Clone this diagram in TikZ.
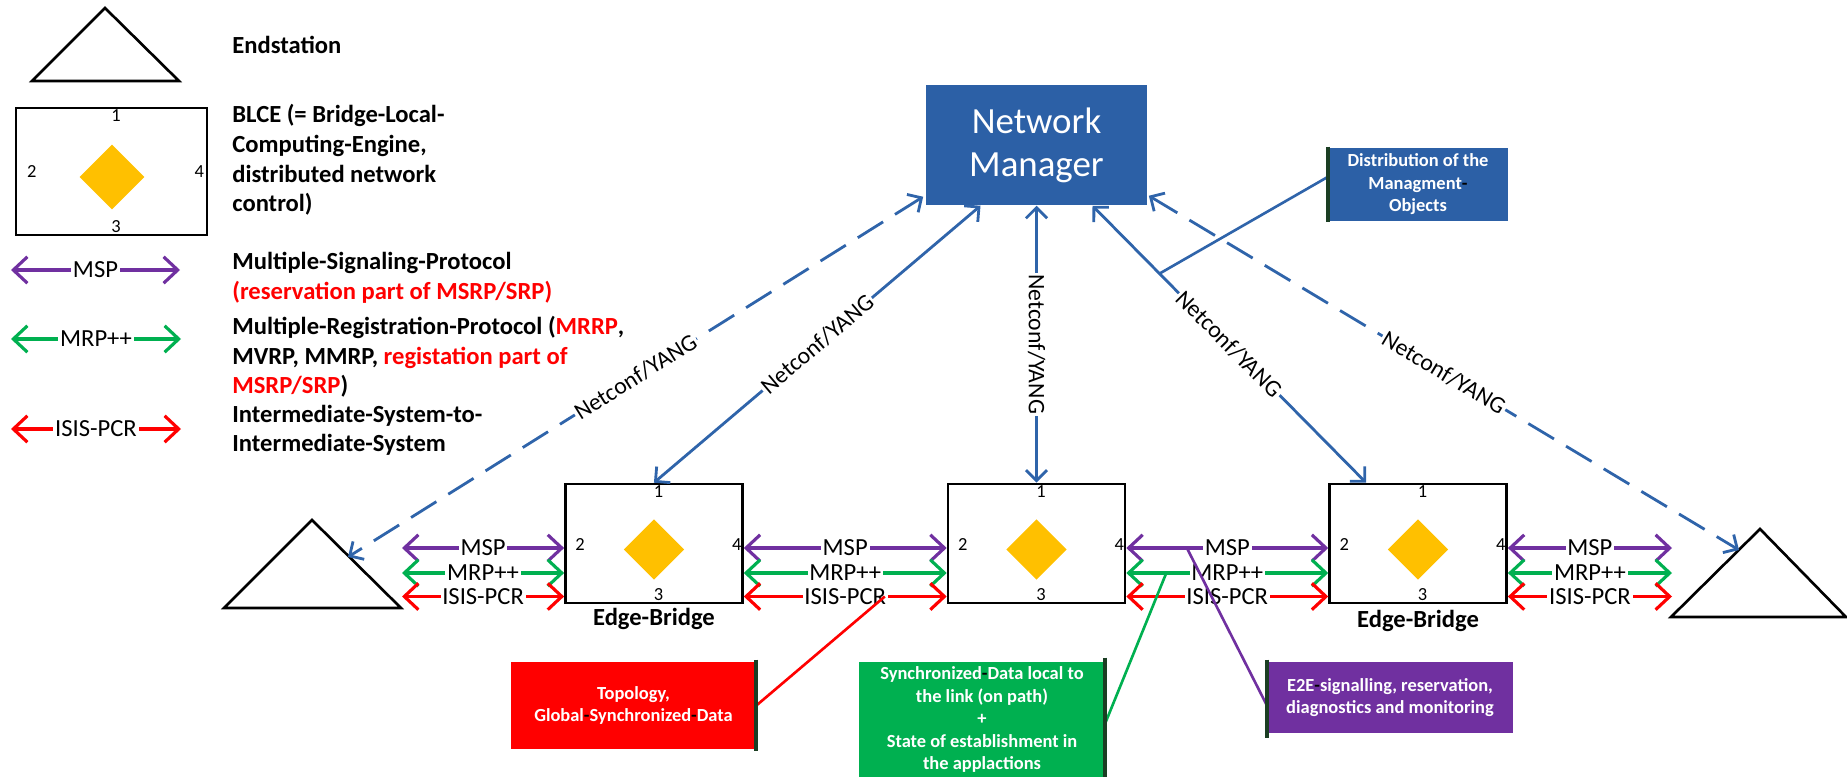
\documentclass[tikz,border=0pt]{standalone}
\usepackage{fontspec}
\setmainfont{Carlito}
\usepackage{tikz}
\usetikzlibrary{arrows.meta, positioning, calc, shapes.geometric}

\begin{document}
\begin{tikzpicture}[
    x=0.02cm, y=-0.02cm,
    font=\fontsize{14}{16.8}\selectfont,
    bridge/.style={
        rectangle, draw=black, line width=1.5pt, inner sep=0pt,
        minimum width=3.54cm, minimum height=2.38cm
    },
    engine/.style={
        diamond, fill=blce, inner sep=0pt,
        minimum width=#1, minimum height=#1
    },
    port/.style={font=\fontsize{10.5}{11}\selectfont, inner sep=0pt},
    infobox/.style n args={3}{
        rectangle, fill=#1, text=white, align=center, inner sep=0pt,
        minimum width=#2, minimum height=#3,
        font=\fontsize{10.5}{12.8}\selectfont\bfseries
    },
    edgebar/.style={draw=bardark, line width=2.2pt},
    proto/.style={
        {Straight Barb[length=8pt,width=15pt]}-{Straight Barb[length=8pt,width=15pt]},
        line width=1.8pt, draw=#1
    },
    plabel/.style={fill=white, text=black, inner xsep=1pt, inner ysep=0pt},
    hook/.style={line width=1.5pt, draw=#1},
    ncline/.style={
        {Straight Barb[length=6pt,width=12pt]}-{Straight Barb[length=6pt,width=12pt]},
        line width=1.6pt, draw=ncblue
    },
    ncdash/.style={ncline, dash pattern=on 17pt off 8pt},
    nclabel/.style={
        midway, sloped, fill=white, text=black, inner sep=1pt,
        font=\fontsize{13.5}{14}\selectfont
    },
    legtext/.style={
        anchor=west, align=left, inner sep=0pt,
        font=\fontsize{14}{16.8}\selectfont\bfseries
    },
    station/.style={draw=black, line width=1.5pt},
]

\definecolor{blce}{RGB}{255,192,0}
\definecolor{legred}{RGB}{255,0,0}
\definecolor{mspc}{RGB}{112,48,160}
\definecolor{mrpc}{RGB}{0,176,80}
\definecolor{isisc}{RGB}{255,0,0}
\definecolor{nmblue}{RGB}{44,96,166}
\definecolor{ncblue}{RGB}{47,100,170}
\definecolor{bardark}{RGB}{27,62,35}

\useasboundingbox (0,0) rectangle (1847,777);

% ============================================================
% Legend
% ============================================================

\draw[station] (32,81) -- (105,8) -- (179,81) -- cycle;
\node[legtext] (lg-es) at (232,45) {Endstation};

\node[bridge, minimum width=3.82cm, minimum height=2.54cm] (lg-box) at (111.5,171.5) {};
\node[engine=1.3cm] (lg-eng) at ($(lg-box.center)+(0.5,5.5)$) {};
\node[port] at ($(lg-box.north)+(4.5,9)$) {1};
\node[port] at ($(lg-box.west)+(17,0.5)$) {2};
\node[port] at ($(lg-box.south)+(4.5,-10)$) {3};
\node[port] at ($(lg-box.east)+(-9,0.5)$) {4};
\node[legtext] (lg-blce) at (232,160)
    {BLCE (= Bridge-Local-\\Computing-Engine,\\distributed network\\control)};

\coordinate (lg-msp-a) at (11,270);
\coordinate (lg-msp-b) at (180,270);
\coordinate (lg-mrp-a) at (11,339);
\coordinate (lg-mrp-b) at (181,339);
\coordinate (lg-isis-a) at (11,429);
\coordinate (lg-isis-b) at (181,429);
\draw[proto=mspc] (lg-msp-a) -- node[plabel] {MSP} (lg-msp-b);
\draw[proto=mrpc] (lg-mrp-a) -- node[plabel] {MRP++} (lg-mrp-b);
\draw[proto=isisc] (lg-isis-a) -- node[plabel] {ISIS-PCR} (lg-isis-b);

\node[legtext] (lg-msp) at (232,278)
    {Multiple-Signaling-Protocol\\\textcolor{legred}{(reservation part of MSRP/SRP)}};
\node[legtext] (lg-mrp) at (232,357)
    {Multiple-Registration-Protocol (\textcolor{legred}{MRRP},\\MVRP, MMRP, \textcolor{legred}{registation part of}\\\textcolor{legred}{MSRP/SRP})};
\node[legtext] (lg-isis) at (232,430.5)
    {Intermediate-System-to-\\Intermediate-System};

% ============================================================
% Bridges and end stations
% ============================================================

\node[bridge] (br2) at (1036.5,543.5) {};
\node[bridge, left=4.06cm of br2] (br1) {};
\node[bridge, right=4.04cm of br2] (br3) {};

\node[engine=1.21cm] (br1-eng) at ($(br1.center)+(0,6)$) {};
\node[engine=1.21cm] (br2-eng) at ($(br2.center)+(0,6)$) {};
\node[engine=1.21cm] (br3-eng) at ($(br3.center)+(0,6)$) {};

\node[port] at ($(br1.north)+(4.5,9)$) {1};
\node[port] at ($(br1.west)+(16,1.5)$) {2};
\node[port] at ($(br1.south)+(4.5,-10)$) {3};
\node[port] at ($(br1.east)+(-7,1.5)$) {4};
\node[port] at ($(br2.north)+(4.5,9)$) {1};
\node[port] at ($(br2.west)+(16,1.5)$) {2};
\node[port] at ($(br2.south)+(4.5,-10)$) {3};
\node[port] at ($(br2.east)+(-7,1.5)$) {4};
\node[port] at ($(br3.north)+(4.5,9)$) {1};
\node[port] at ($(br3.west)+(16,1.5)$) {2};
\node[port] at ($(br3.south)+(4.5,-10)$) {3};
\node[port] at ($(br3.east)+(-7,1.5)$) {4};

\node[below=2pt of br1, inner sep=0pt, font=\fontsize{14}{16}\selectfont\bfseries] (br1-name) {Edge-Bridge};
\node[below=3pt of br3, inner sep=0pt, font=\fontsize{14}{16}\selectfont\bfseries] (br3-name) {Edge-Bridge};

\draw[station] (224,608) -- (312,520) -- (401,608) -- cycle;
\coordinate (esL-tip) at (348,557);
\coordinate (esL-link) at (402,543.5);
\draw[station] (1671,617) -- (1760,529) -- (1846,617) -- cycle;
\coordinate (esR-tip) at (1739,550);
\coordinate (esR-link) at (1672,543.5);

% ============================================================
% Protocol links
% ============================================================

\draw[proto=mspc] ($(esL-link)+(0,4.5)$) -- node[plabel] {MSP} ($(br1.west)+(0,4.5)$);
\draw[proto=mrpc] ($(esL-link)+(0,29.5)$) -- node[plabel] {MRP++} ($(br1.west)+(0,29.5)$);
\draw[proto=isisc] ($(esL-link)+(0,53)$) -- node[plabel] {ISIS-PCR} ($(br1.west)+(0,53)$);

\draw[proto=mspc] ($(br1.east)+(0,4.5)$) -- node[plabel] {MSP} ($(br2.west)+(0,4.5)$);
\draw[proto=mrpc] ($(br1.east)+(0,29.5)$) -- node[plabel] {MRP++} ($(br2.west)+(0,29.5)$);
\draw[proto=isisc] ($(br1.east)+(0,53)$) -- node[plabel] {ISIS-PCR}
    coordinate[pos=0.695] (topo-pt) ($(br2.west)+(0,53)$);

\draw[proto=mspc] ($(br2.east)+(0,4.5)$) -- node[plabel] {MSP}
    coordinate[pos=0.30] (e2e-pt) ($(br3.west)+(0,4.5)$);
\draw[proto=mrpc] ($(br2.east)+(0,29.5)$) -- node[plabel] {MRP++}
    coordinate[pos=0.198] (sync-pt) ($(br3.west)+(0,29.5)$);
\draw[proto=isisc] ($(br2.east)+(0,53)$) -- node[plabel] {ISIS-PCR} ($(br3.west)+(0,53)$);

\draw[proto=mspc] ($(br3.east)+(0,4.5)$) -- node[plabel] {MSP} ($(esR-link)+(0,4.5)$);
\draw[proto=mrpc] ($(br3.east)+(0,29.5)$) -- node[plabel] {MRP++} ($(esR-link)+(0,29.5)$);
\draw[proto=isisc] ($(br3.east)+(0,53)$) -- node[plabel] {ISIS-PCR} ($(esR-link)+(0,53)$);

% ============================================================
% Network manager
% ============================================================

\node[rectangle, fill=nmblue, text=white, align=center, inner sep=0pt,
      minimum width=4.44cm, minimum height=2.4cm,
      font=\fontsize{21}{24.5}\selectfont, above=5.54cm of br2] (nm) {Network\\Manager};

\draw[ncdash] ($(nm.south west)+(-2,-9)$) -- node[nclabel] {Netconf/YANG} (esL-tip);
\draw[ncline] ($(nm.south)+(-56,0)$) -- node[nclabel] {Netconf/YANG} (br1.north);
\draw[ncline] (nm.south) -- node[nclabel] {Netconf/YANG} (br2.north);
\draw[ncline] ($(nm.south)+(56,0)$) -- node[nclabel] {Netconf/YANG}
    coordinate[pos=0.245] (mgmt-pt) ($(br3.north)+(-52,0)$);
\draw[ncdash] ($(nm.south east)+(1,-10)$) -- node[nclabel] {Netconf/YANG} (esR-tip);

\node[infobox={nmblue}{3.6cm}{1.46cm}] (mgmt) at (1418,184.5)
    {Distribution of the\\Managment{\color{black}-}\\Objects};
\draw[hook=ncblue] ($(mgmt.west)+(0,-7.5)$) -- (mgmt-pt);
\draw[edgebar] ($(mgmt.north west)+(0,-1)$) -- ($(mgmt.south west)+(0,1)$);

% ============================================================
% Annotation boxes
% ============================================================

\node[infobox={legred}{4.9cm}{1.74cm}] (topo) at (633.5,705.5)
    {Topology,\\Global{\color{black}-}Synchronized{\color{black}-}Data};
\draw[hook=isisc] (topo.east) -- (topo-pt);
\draw[edgebar] ($(topo.north east)+(0,-2)$) -- ($(topo.south east)+(0,2)$);

\node[infobox={mrpc}{4.92cm}{2.3cm}] (sync) at (982,719.5)
    {Synchronized{\color{black}-}Data local to\\the link (on path)\\+\\State of establishment in\\the applactions};
\draw[hook=mrpc] ($(sync.east)+(0,3.5)$) -- (sync-pt);
\draw[edgebar] ($(sync.north east)+(0,-4)$) -- (sync.south east);

\node[infobox={mspc}{4.92cm}{1.42cm}] (e2e) at (1390,697.5)
    {E2E{\color{black}-}signalling, reservation,\\diagnostics and monitoring};
\draw[hook=mspc] ($(e2e.west)+(0,7.5)$) -- (e2e-pt);
\draw[edgebar] ($(e2e.north west)+(0,-2)$) -- ($(e2e.south west)+(0,5)$);

\end{tikzpicture}
\end{document}
